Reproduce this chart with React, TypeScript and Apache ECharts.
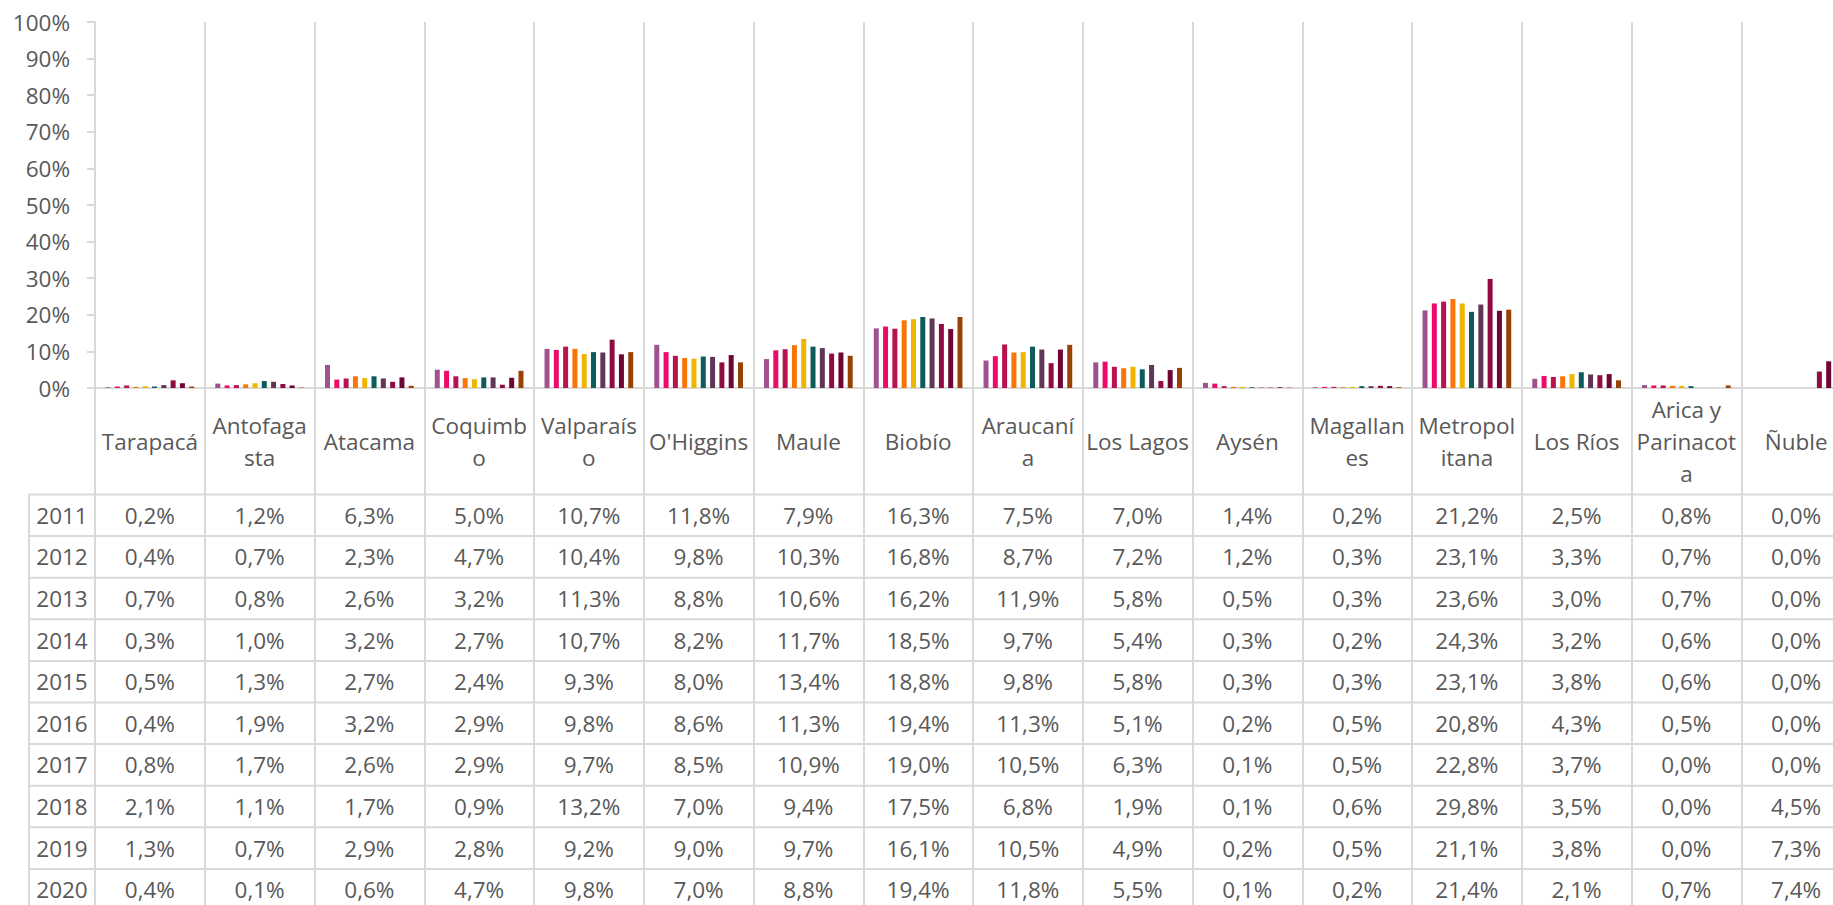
import React, { useEffect, useRef } from "react";
import * as echarts from "echarts";

const regions = [
  "Tarapacá", "Antofagasta", "Atacama", "Coquimbo", "Valparaíso", "O'Higgins", "Maule", "Biobío",
  "Araucanía", "Los Lagos", "Aysén", "Magallanes", "Metropolitana", "Los Ríos", "Arica y Parinacota", "Ñuble",
];
const headerLabels = [
  "Tarapacá", "Antofaga\nsta", "Atacama", "Coquimb\no", "Valparaís\no", "O'Higgins", "Maule", "Biobío",
  "Araucaní\na", "Los Lagos", "Aysén", "Magallan\nes", "Metropol\nitana", "Los Ríos", "Arica y\nParinacot\na", "Ñuble",
];
const years = ["2011", "2012", "2013", "2014", "2015", "2016", "2017", "2018", "2019", "2020"];

const v2011 = [0.2, 1.2, 6.3, 5.0, 10.7, 11.8, 7.9, 16.3, 7.5, 7.0, 1.4, 0.2, 21.2, 2.5, 0.8, 0.0];
const v2012 = [0.4, 0.7, 2.3, 4.7, 10.4, 9.8, 10.3, 16.8, 8.7, 7.2, 1.2, 0.3, 23.1, 3.3, 0.7, 0.0];
const v2013 = [0.7, 0.8, 2.6, 3.2, 11.3, 8.8, 10.6, 16.2, 11.9, 5.8, 0.5, 0.3, 23.6, 3.0, 0.7, 0.0];
const v2014 = [0.3, 1.0, 3.2, 2.7, 10.7, 8.2, 11.7, 18.5, 9.7, 5.4, 0.3, 0.2, 24.3, 3.2, 0.6, 0.0];
const v2015 = [0.5, 1.3, 2.7, 2.4, 9.3, 8.0, 13.4, 18.8, 9.8, 5.8, 0.3, 0.3, 23.1, 3.8, 0.6, 0.0];
const v2016 = [0.4, 1.9, 3.2, 2.9, 9.8, 8.6, 11.3, 19.4, 11.3, 5.1, 0.2, 0.5, 20.8, 4.3, 0.5, 0.0];
const v2017 = [0.8, 1.7, 2.6, 2.9, 9.7, 8.5, 10.9, 19.0, 10.5, 6.3, 0.1, 0.5, 22.8, 3.7, 0.0, 0.0];
const v2018 = [2.1, 1.1, 1.7, 0.9, 13.2, 7.0, 9.4, 17.5, 6.8, 1.9, 0.1, 0.6, 29.8, 3.5, 0.0, 4.5];
const v2019 = [1.3, 0.7, 2.9, 2.8, 9.2, 9.0, 9.7, 16.1, 10.5, 4.9, 0.2, 0.5, 21.1, 3.8, 0.0, 7.3];
const v2020 = [0.4, 0.1, 0.6, 4.7, 9.8, 7.0, 8.8, 19.4, 11.8, 5.5, 0.1, 0.2, 21.4, 2.1, 0.7, 7.4];
const yearValues = [v2011, v2012, v2013, v2014, v2015, v2016, v2017, v2018, v2019, v2020];

const colors = [
  "#9E5390", "#EC0A6A", "#B8134F", "#F87508", "#EFB600",
  "#0D5B5B", "#5F3658", "#900B41", "#6C0634", "#984305",
];

const FONT = "'Open Sans', 'Liberation Sans', sans-serif";
const FS = 22.5;
const TEXT = "#595959";
const LINE = "#d9d9d9";

const GRID_LEFT = 95;
const GRID_TOP = 22;
const CAT_W = 109.75;
const GRID_W = CAT_W * regions.length;
const GRID_H = 366;
const HEADER_H = 106.5;
const ROW_H = 41.6;
const TABLE_LEFT = 29;
const CHART_W = 1860;
const CHART_H = 905;

const fmt = (v: number) => v.toFixed(1).replace(".", ",") + "%";

export default function App() {
  const ref = useRef<HTMLDivElement>(null);

  useEffect(() => {
    if (!ref.current) return;
    const chart = echarts.init(ref.current, undefined, { renderer: "svg" });
    const bottom = GRID_TOP + GRID_H;
    chart.setOption({
      animation: false,
      textStyle: { fontFamily: FONT },
      grid: { left: GRID_LEFT, top: GRID_TOP, width: GRID_W, height: GRID_H, containLabel: false },
      xAxis: {
        type: "category",
        data: regions,
        boundaryGap: true,
        axisLine: { show: true, lineStyle: { color: LINE, width: 2 } },
        axisTick: {
          show: true,
          interval: 0,
          inside: false,
          length: CHART_H - bottom + 10,
          lineStyle: { color: LINE, width: 2 },
        },
        splitLine: { show: true, interval: 0, lineStyle: { color: LINE, width: 2 } },
        axisLabel: {
          interval: 0,
          hideOverlap: false,
          margin: HEADER_H / 2,
          verticalAlign: "middle",
          lineHeight: 32,
          fontSize: FS,
          fontFamily: FONT,
          color: TEXT,
          formatter: (_v: string, i: number) => headerLabels[i],
        },
      },
      yAxis: {
        type: "value",
        min: 0,
        max: 100,
        interval: 10,
        axisLine: { show: true, lineStyle: { color: LINE, width: 2 } },
        axisTick: { show: true, length: 8, lineStyle: { color: LINE, width: 2 } },
        splitLine: { show: false },
        axisLabel: { formatter: "{value}%", fontSize: FS, fontFamily: FONT, color: TEXT, margin: 25 },
      },
      series: yearValues.map((vals, i) => ({
        name: years[i],
        type: "bar",
        data: vals,
        barWidth: 5,
        barGap: "86%",
        itemStyle: { color: colors[i] },
      })),
    });

    const tableTop = bottom + HEADER_H;
    const elements: any[] = [];
    for (let r = 0; r <= years.length; r++) {
      const y = tableTop + r * ROW_H;
      elements.push({
        type: "line",
        shape: { x1: TABLE_LEFT, y1: y, x2: CHART_W, y2: y },
        style: { stroke: LINE, lineWidth: 2 },
        silent: true,
      });
    }
    elements.push({
      type: "line",
      shape: { x1: TABLE_LEFT, y1: tableTop, x2: TABLE_LEFT, y2: CHART_H + 10 },
      style: { stroke: LINE, lineWidth: 2 },
      silent: true,
    });
    years.forEach((yr, r) => {
      const yc = tableTop + (r + 0.5) * ROW_H;
      elements.push({
        type: "text",
        x: (TABLE_LEFT + GRID_LEFT) / 2,
        y: yc,
        silent: true,
        style: {
          text: yr,
          fontSize: FS,
          fontFamily: FONT,
          fill: TEXT,
          align: "center",
          verticalAlign: "middle",
        },
      });
      yearValues[r].forEach((v, c) => {
        const xc = chart.convertToPixel({ xAxisIndex: 0 }, regions[c]) as number;
        elements.push({
          type: "text",
          x: xc,
          y: yc,
          silent: true,
          style: {
            text: fmt(v),
            fontSize: FS,
            fontFamily: FONT,
            fill: TEXT,
            align: "center",
            verticalAlign: "middle",
          },
        });
      });
    });
    chart.setOption({ graphic: { elements } });

    return () => chart.dispose();
  }, []);

  return (
    <div
      style={{
        position: "fixed",
        left: 0,
        top: 0,
        width: 1833,
        height: 905,
        overflow: "hidden",
        background: "#ffffff",
      }}
    >
      <div ref={ref} style={{ width: CHART_W, height: CHART_H }} />
    </div>
  );
}
